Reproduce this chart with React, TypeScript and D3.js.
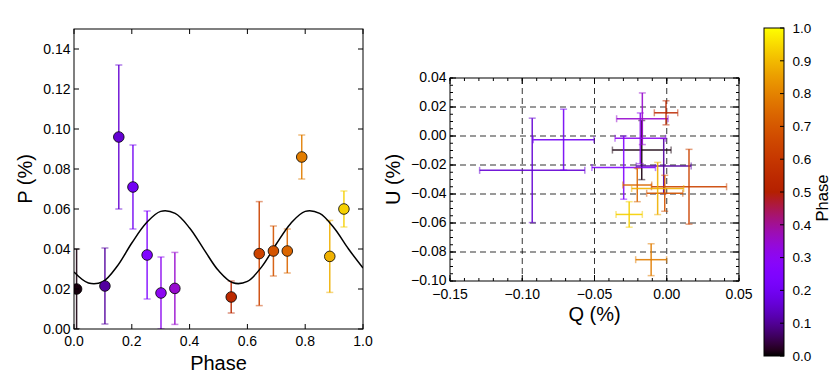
import * as d3 from 'd3';

// phase-resolved polarimetry
const phase = [0.009, 0.107, 0.155, 0.204, 0.253, 0.301, 0.349, 0.544, 0.641, 0.690, 0.738, 0.788, 0.885, 0.934];
const polP = [0.020, 0.0215, 0.096, 0.071, 0.037, 0.018, 0.0203, 0.016, 0.0377, 0.039, 0.039, 0.086, 0.0363, 0.060];
const polErr = [0.020, 0.019, 0.036, 0.021, 0.022, 0.018, 0.018, 0.008, 0.026, 0.0125, 0.011, 0.011, 0.018, 0.009];

const stokesQ = [-0.0173, -0.0021, -0.0931, -0.0714, -0.0298, -0.0183, -0.0169, -0.0005, 0.0154, -0.0014, -0.0204, -0.0108, -0.0063, -0.026];
const stokesU = [-0.0097, -0.0207, -0.0237, -0.0025, -0.0218, -0.0016, 0.0119, 0.016, -0.035, -0.0395, -0.0338, -0.0853, -0.0362, -0.0541];
const qErr = [0.0203, 0.019, 0.0364, 0.021, 0.022, 0.0175, 0.0178, 0.0081, 0.026, 0.0125, 0.010, 0.0107, 0.018, 0.0091];
const uErr = [0.0204, 0.019, 0.036, 0.021, 0.0218, 0.0175, 0.0178, 0.0083, 0.0258, 0.0124, 0.0115, 0.011, 0.018, 0.0088];

// model curve samples
const modelPhase = [0, 0.05, 0.1, 0.15, 0.2, 0.25, 0.3, 0.35, 0.4, 0.45, 0.5, 0.55, 0.6, 0.65, 0.7, 0.75, 0.8, 0.85, 0.9, 0.95, 1.0];
const modelP = [0.0285, 0.0230, 0.0237, 0.0315, 0.0430, 0.0530, 0.0588, 0.0578, 0.0505, 0.0397, 0.0292, 0.0231, 0.0238, 0.0312, 0.0425, 0.0528, 0.0588, 0.0578, 0.0505, 0.0400, 0.0305];

const pTicks = [0, 0.02, 0.04, 0.06, 0.08, 0.10, 0.12, 0.14];
const phaseTicks = [0, 0.2, 0.4, 0.6, 0.8, 1.0];
const qTicks = [-0.15, -0.10, -0.05, 0.0, 0.05];
const uTicks = [-0.10, -0.08, -0.06, -0.04, -0.02, 0.0, 0.02, 0.04];
const cbTicks = [0, 0.1, 0.2, 0.3, 0.4, 0.5, 0.6, 0.7, 0.8, 0.9, 1.0];

const FONT = '"Liberation Sans", Arial, sans-serif';
const TICK_FS = 14;

function gnuplot(t: number) {
  const r = Math.sqrt(t);
  const g = t * t * t;
  const b = Math.max(0, Math.min(1, Math.sin(2 * Math.PI * t)));
  return d3.rgb(r * 255, g * 255, b * 255).formatHex();
}

const minus = (s: string) => s.replace('-', '\u2212');

export default function App() {
  // left panel
  const x1 = d3.scaleLinear().domain([0, 1]).range([74, 363]);
  const y1 = d3.scaleLinear().domain([0, 0.15]).range([329, 29]);
  // right panel
  const x2 = d3.scaleLinear().domain([-0.15, 0.05]).range([450, 739]);
  const y2 = d3.scaleLinear().domain([-0.10, 0.04]).range([281, 78]);
  // colorbar
  const yc = d3.scaleLinear().domain([0, 1]).range([356, 28]);

  const line = d3.line<number>()
    .x((_, i) => x1(modelPhase[i]))
    .y(d => y1(d))
    .curve(d3.curveCatmullRom);

  const qMinor = d3.range(-0.15, 0.0501, 0.01);
  const uMinor = d3.range(-0.10, 0.0401, 0.005);

  const stops = d3.range(0, 1.0001, 0.02);

  return (
    <svg width={830} height={376} style={{ position: 'absolute', left: 0, top: 0, background: '#fff' }}
      fontFamily={FONT}>
      <defs>
        <clipPath id="clipL"><rect x={74} y={29} width={289} height={300} /></clipPath>
        <clipPath id="clipR"><rect x={450} y={78} width={289} height={203} /></clipPath>
        <linearGradient id="cmap" x1="0" y1="1" x2="0" y2="0">
          {stops.map(t => <stop key={t} offset={t} stopColor={gnuplot(t)} />)}
        </linearGradient>
      </defs>

      {/* ---------- left: P vs phase ---------- */}
      <g clipPath="url(#clipL)">
        {phase.map((p, i) => {
          const c = gnuplot(p);
          const cx = x1(p);
          return (
            <g key={i}>
              <line x1={cx} x2={cx} y1={y1(polP[i] - polErr[i])} y2={y1(polP[i] + polErr[i])} stroke={c} strokeWidth={1.5} opacity={0.9} />
              <line x1={cx - 3.5} x2={cx + 3.5} y1={y1(polP[i] - polErr[i])} y2={y1(polP[i] - polErr[i])} stroke={c} strokeWidth={1.5} opacity={0.5} />
              <line x1={cx - 3.5} x2={cx + 3.5} y1={y1(polP[i] + polErr[i])} y2={y1(polP[i] + polErr[i])} stroke={c} strokeWidth={1.5} opacity={0.5} />
            </g>
          );
        })}
        <path d={line(modelP) || ''} fill="none" stroke="#000" strokeWidth={1.5} />
        {phase.map((p, i) => (
          <circle key={i} cx={x1(p)} cy={y1(polP[i])} r={5.3} fill={gnuplot(p)} stroke="#000" strokeWidth={0.8} />
        ))}
      </g>
      <rect x={74} y={29} width={289} height={300} fill="none" stroke="#000" strokeWidth={1} />
      {pTicks.map(t => (
        <g key={t}>
          <line x1={74} x2={79} y1={y1(t)} y2={y1(t)} stroke="#000" />
          <line x1={363} x2={358} y1={y1(t)} y2={y1(t)} stroke="#000" />
          <text x={70.5} y={y1(t)} dy="0.35em" textAnchor="end" fontSize={TICK_FS}>{d3.format('.2f')(t)}</text>
        </g>
      ))}
      {phaseTicks.map(t => (
        <g key={t}>
          <line x1={x1(t)} x2={x1(t)} y1={329} y2={324} stroke="#000" />
          <line x1={x1(t)} x2={x1(t)} y1={29} y2={34} stroke="#000" />
          <text x={x1(t)} y={345.5} textAnchor="middle" fontSize={TICK_FS}>{d3.format('.1f')(t)}</text>
        </g>
      ))}
      <text x={218.5} y={370} textAnchor="middle" fontSize={20}>Phase</text>
      <text transform={`translate(31.5,179) rotate(-90)`} textAnchor="middle" fontSize={20}>P (%)</text>

      {/* ---------- right: Q-U plane ---------- */}
      <g stroke="#000" strokeOpacity={0.8} strokeWidth={1} strokeDasharray="6,4">
        {qTicks.slice(1, -1).map(t => (
          <line key={t} x1={x2(t)} x2={x2(t)} y1={78} y2={281} />
        ))}
        {uTicks.slice(1, -1).map(t => (
          <line key={t} x1={450} x2={739} y1={y2(t)} y2={y2(t)} />
        ))}
      </g>
      <g clipPath="url(#clipR)">
        {phase.map((p, i) => {
          const c = gnuplot(p);
          const cx = x2(stokesQ[i]);
          const cy = y2(stokesU[i]);
          const xl = x2(stokesQ[i] - qErr[i]);
          const xr = x2(stokesQ[i] + qErr[i]);
          const yt = y2(stokesU[i] + uErr[i]);
          const yb = y2(stokesU[i] - uErr[i]);
          return (
            <g key={i}>
              <line x1={xl} x2={xr} y1={cy} y2={cy} stroke={c} strokeWidth={1.5} opacity={0.9} />
              <line x1={cx} x2={cx} y1={yt} y2={yb} stroke={c} strokeWidth={1.5} opacity={0.9} />
              <line x1={xl} x2={xl} y1={cy - 3.5} y2={cy + 3.5} stroke={c} strokeWidth={1.5} opacity={0.5} />
              <line x1={xr} x2={xr} y1={cy - 3.5} y2={cy + 3.5} stroke={c} strokeWidth={1.5} opacity={0.5} />
              <line x1={cx - 3.5} x2={cx + 3.5} y1={yt} y2={yt} stroke={c} strokeWidth={1.5} opacity={0.5} />
              <line x1={cx - 3.5} x2={cx + 3.5} y1={yb} y2={yb} stroke={c} strokeWidth={1.5} opacity={0.5} />
            </g>
          );
        })}
      </g>
      <rect x={450} y={78} width={289} height={203} fill="none" stroke="#000" strokeWidth={1} />
      {qMinor.map((t, i) => (
        <g key={i}>
          <line x1={x2(t)} x2={x2(t)} y1={281} y2={278} stroke="#000" />
          <line x1={x2(t)} x2={x2(t)} y1={78} y2={81} stroke="#000" />
        </g>
      ))}
      {uMinor.map((t, i) => (
        <g key={i}>
          <line x1={450} x2={453} y1={y2(t)} y2={y2(t)} stroke="#000" />
          <line x1={739} x2={736} y1={y2(t)} y2={y2(t)} stroke="#000" />
        </g>
      ))}
      {qTicks.map(t => (
        <g key={t}>
          <line x1={x2(t)} x2={x2(t)} y1={281} y2={275} stroke="#000" />
          <line x1={x2(t)} x2={x2(t)} y1={78} y2={84} stroke="#000" />
          <text x={x2(t)} y={298.5} textAnchor="middle" fontSize={TICK_FS}>{minus(d3.format('.2f')(t))}</text>
        </g>
      ))}
      {uTicks.map(t => (
        <g key={t}>
          <line x1={450} x2={456} y1={y2(t)} y2={y2(t)} stroke="#000" />
          <line x1={739} x2={733} y1={y2(t)} y2={y2(t)} stroke="#000" />
          <text x={446.5} y={y2(t)} dy="0.3em" textAnchor="end" fontSize={TICK_FS}>{minus(d3.format('.2f')(t))}</text>
        </g>
      ))}
      <text x={594.5} y={321} textAnchor="middle" fontSize={20}>Q (%)</text>
      <text transform={`translate(400,179.5) rotate(-90)`} textAnchor="middle" fontSize={20}>U (%)</text>

      {/* ---------- colorbar ---------- */}
      <rect x={764} y={28} width={20} height={328} fill="url(#cmap)" stroke="#000" strokeWidth={1} />
      {cbTicks.map(t => (
        <g key={t}>
          <line x1={784} x2={780} y1={yc(t)} y2={yc(t)} stroke="#000" />
          <text x={792.5} y={yc(t)} dy="0.35em" fontSize={13.5}>{d3.format('.1f')(t)}</text>
        </g>
      ))}
      <text transform={`translate(828,198) rotate(-90)`} textAnchor="middle" fontSize={16.5}>Phase</text>
    </svg>
  );
}
